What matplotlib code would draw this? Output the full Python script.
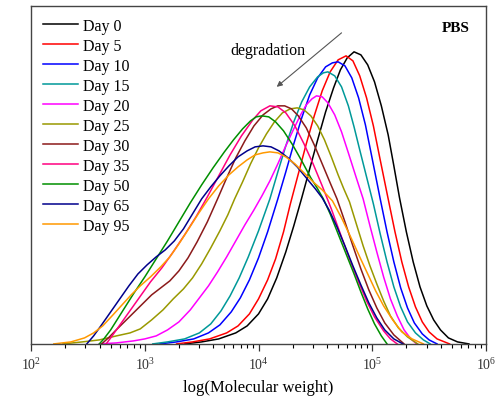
import numpy as np
import matplotlib
matplotlib.use("Agg")
import matplotlib.pyplot as plt
from matplotlib.ticker import LogLocator, NullFormatter

plt.rcParams['font.family'] = ['Liberation Serif', 'DejaVu Serif']
plt.rcParams['mathtext.fontset'] = 'stix'

# GPC traces: log10(M) and detector response (arb. units)
labels = ['Day 0', 'Day 5', 'Day 10', 'Day 15', 'Day 20', 'Day 25',
          'Day 30', 'Day 35', 'Day 50', 'Day 65', 'Day 95']
colors = ['#000000', '#ff0000', '#0000ff', '#009999', '#ff00ff', '#999900',
          '#8b1a1a', '#ff0080', '#008f00', '#00008b', '#ff9900']

day0_logm = [3.35, 3.5, 3.65, 3.8, 3.9, 4.0, 4.08, 4.16, 4.24, 4.31, 4.38, 4.45, 4.52, 4.59,
             4.66, 4.72, 4.78, 4.84, 4.90, 4.96, 5.02, 5.08, 5.14, 5.19, 5.24, 5.30, 5.36,
             5.42, 5.48, 5.54, 5.60, 5.67, 5.75, 5.85]
day0_int = [0, 2, 5, 11, 18, 30, 45, 66, 92, 118, 146, 175, 204, 232,
            256, 274, 286, 292, 289, 279, 262, 238, 209, 178, 146, 112, 82,
            57, 38, 24, 14, 6, 2, 0]

day5_logm = [3.28, 3.42, 3.57, 3.72, 3.82, 3.92, 4.0, 4.08, 4.15, 4.22, 4.28, 4.35, 4.42,
             4.49, 4.56, 4.63, 4.70, 4.77, 4.83, 4.89, 4.95, 5.01, 5.07, 5.14, 5.2, 5.26,
             5.32, 5.38, 5.44, 5.5, 5.57, 5.68]
day5_int = [0, 2, 5, 11, 18, 30, 45, 64, 85, 112, 140, 170, 200,
            228, 253, 272, 284, 288, 283, 268, 246, 218, 184, 145, 112, 82,
            57, 37, 22, 12, 5, 0]

day10_logm = [3.13, 3.28, 3.43, 3.56, 3.66, 3.76, 3.84, 3.92, 4.0, 4.08, 4.17, 4.24, 4.31,
              4.38, 4.45, 4.52, 4.59, 4.65, 4.70, 4.76, 4.82, 4.88, 4.94, 5.0, 5.07, 5.13,
              5.19, 5.25, 5.31, 5.37, 5.44, 5.5, 5.57]
day10_int = [0, 2, 5, 11, 19, 32, 46, 64, 86, 112, 145, 172, 200,
             226, 249, 266, 277, 281, 282, 278, 266, 246, 219, 185, 145, 112,
             82, 56, 36, 21, 10, 4, 0]

day15_logm = [3.07, 3.2, 3.35, 3.48, 3.58, 3.67, 3.75, 3.83, 3.91, 4.0, 4.10, 4.17, 4.24,
              4.31, 4.38, 4.45, 4.52, 4.57, 4.61, 4.67, 4.73, 4.79, 4.84, 4.89, 4.95, 5.01,
              5.07, 5.13, 5.19, 5.25, 5.31, 5.38, 5.45, 5.51]
day15_int = [0, 2, 5, 11, 20, 33, 48, 66, 87, 113, 145, 172, 198,
             222, 242, 257, 267, 271, 272, 268, 257, 238, 217, 194, 167, 140,
             110, 82, 57, 37, 22, 11, 4, 0]

day20_logm = [2.6, 2.75, 2.9, 3.0, 3.1, 3.2, 3.3, 3.4, 3.48, 3.56, 3.64, 3.72, 3.8, 3.88,
              3.96, 4.03, 4.1, 4.17, 4.24, 4.31, 4.37, 4.42, 4.47, 4.51, 4.56, 4.61, 4.67,
              4.73, 4.79, 4.86, 4.92, 4.98, 5.04, 5.1, 5.16, 5.22, 5.28, 5.34, 5.39]
day20_int = [0, 1, 3, 5, 8, 14, 22, 34, 46, 58, 72, 87, 103, 119,
             134, 148, 163, 180, 198, 215, 229, 239, 245, 248, 247, 241, 229,
             212, 191, 166, 145, 118, 92, 67, 45, 28, 14, 5, 0]

day25_logm = [2.28, 2.45, 2.6, 2.75, 2.87, 2.96, 3.06, 3.16, 3.25, 3.34, 3.42, 3.5, 3.58,
              3.66, 3.73, 3.79, 3.86, 3.93, 4.0, 4.07, 4.14, 4.21, 4.28, 4.34, 4.40, 4.46,
              4.52, 4.58, 4.64, 4.70, 4.75, 4.80, 4.86, 4.92, 4.98, 5.04, 5.1, 5.16, 5.23,
              5.31, 5.4]
day25_int = [0, 2, 4, 8, 11, 15, 24, 34, 45, 55, 66, 80, 96,
             113, 129, 145, 162, 180, 196, 210, 222, 231, 235, 236, 234, 228,
             218, 204, 187, 169, 155, 142, 120, 98, 78, 60, 43, 28, 16,
             7, 0]

day30_logm = [2.62, 2.68, 2.74, 2.82, 2.9, 2.98, 3.06, 3.14, 3.22, 3.3, 3.38, 3.46, 3.55,
              3.64, 3.72, 3.8, 3.88, 3.96, 4.04, 4.11, 4.17, 4.23, 4.29, 4.35, 4.42, 4.49,
              4.56, 4.63, 4.69, 4.76, 4.83, 4.9, 4.97, 5.04, 5.11, 5.19, 5.28]
day30_int = [0, 6, 13, 22, 31, 40, 49, 56, 63, 73, 86, 102, 122,
             145, 166, 186, 203, 218, 229, 235, 238, 238, 235, 228, 216, 199,
             180, 161, 145, 122, 98, 75, 54, 36, 21, 9, 0]

day35_logm = [2.66, 2.7, 2.75, 2.85, 2.95, 3.05, 3.15, 3.25, 3.35, 3.45, 3.55, 3.65, 3.75,
              3.85, 3.95, 4.02, 4.10, 4.17, 4.24, 4.32, 4.4, 4.48, 4.56, 4.64, 4.72, 4.8,
              4.88, 4.95, 5.02, 5.1, 5.16, 5.22]
day35_int = [0, 6, 14, 30, 46, 62, 76, 92, 109, 127, 147, 168, 189,
             208, 224, 233, 238, 237, 231, 218, 200, 180, 158, 135, 110, 85,
             62, 43, 27, 13, 5, 0]

day50_logm = [2.6, 2.64, 2.7, 2.8, 2.9, 3.0, 3.1, 3.2, 3.3, 3.4, 3.5, 3.6, 3.7, 3.78,
              3.86, 3.93, 3.98, 4.03, 4.09, 4.15, 4.22, 4.3, 4.38, 4.46, 4.52, 4.57, 4.63,
              4.7, 4.77, 4.84, 4.9, 4.96, 5.02, 5.08, 5.13]
day50_int = [0, 5, 14, 32, 50, 67, 85, 103, 122, 141, 159, 176, 192, 204,
             215, 223, 227, 228, 227, 222, 213, 199, 183, 166, 155, 145, 130,
             110, 90, 70, 52, 35, 20, 8, 0]

day65_logm = [2.49, 2.55, 2.62, 2.7, 2.78, 2.86, 2.94, 3.02, 3.1, 3.18, 3.26, 3.34, 3.42,
              3.5, 3.58, 3.66, 3.74, 3.82, 3.9, 3.97, 4.04, 4.11, 4.18, 4.26, 4.34, 4.42,
              4.5, 4.56, 4.62, 4.69, 4.76, 4.83, 4.9, 4.97, 5.04, 5.11, 5.19, 5.27]
day65_int = [0, 8, 19, 32, 45, 58, 70, 79, 87, 94, 103, 115, 130,
             145, 157, 168, 178, 187, 193, 197, 198, 197, 193, 186, 177, 166,
             155, 146, 134, 117, 98, 78, 59, 41, 26, 14, 5, 0]

day95_logm = [2.2, 2.35, 2.47, 2.55, 2.63, 2.72, 2.8, 2.88, 2.96, 3.05, 3.14, 3.22, 3.3,
              3.38, 3.47, 3.56, 3.65, 3.74, 3.82, 3.9, 3.97, 4.04, 4.1, 4.17, 4.24, 4.32,
              4.4, 4.48, 4.56, 4.65, 4.73, 4.81, 4.89, 4.96, 5.03, 5.1, 5.18, 5.26, 5.35,
              5.45]
day95_int = [0, 2, 6, 11, 18, 29, 39, 49, 58, 67, 77, 87, 100,
             114, 130, 145, 158, 169, 177, 184, 189, 191, 192, 191, 187, 180,
             171, 162, 154, 143, 126, 107, 87, 70, 53, 38, 24, 12, 5,
             0]

all_logm = [day0_logm, day5_logm, day10_logm, day15_logm, day20_logm, day25_logm,
            day30_logm, day35_logm, day50_logm, day65_logm, day95_logm]
all_int = [day0_int, day5_int, day10_int, day15_int, day20_int, day25_int,
           day30_int, day35_int, day50_int, day65_int, day95_int]

fig = plt.figure(figsize=(5.01, 4.02), dpi=100)
ax = fig.add_axes([0.062, 0.142, 0.908, 0.841])

for lm, y, c, lab in zip(all_logm, all_int, colors, labels):
    ax.plot(10 ** np.array(lm), y, color=c, lw=1.1, label=lab)

ax.set_xscale('log')
ax.set_xlim(1e2, 1e6)
ax.set_ylim(0, 338)
ax.set_yticks([])
ax.xaxis.set_major_locator(LogLocator(base=10, numticks=10))
ax.xaxis.set_minor_locator(LogLocator(base=10, subs=np.arange(2, 10), numticks=50))
ax.xaxis.set_minor_formatter(NullFormatter())
ax.tick_params(axis='x', which='major', length=5, width=0.9, labelsize=10, pad=4, colors='#333333')
ax.tick_params(axis='x', which='minor', length=3, width=0.8)
for s in ax.spines.values():
    s.set_color('#444444')
    s.set_linewidth(1.0)

ax.set_xlabel('log(Molecular weight)', fontsize=12, labelpad=5)

leg = ax.legend(loc='upper left', frameon=False, fontsize=11.5, handlelength=2.2,
                labelspacing=0.25, borderaxespad=0.35, handletextpad=0.3)

ax.text(0.965, 0.955, 'PBS', transform=ax.transAxes, ha='right', va='top',
        fontsize=11, fontweight='bold')
ax.text(10 ** 4.08, 294, 'degradation', ha='center', va='center', fontsize=11.5)
ax.annotate('', xy=(10 ** 4.16, 257), xytext=(10 ** 4.73, 311),
            arrowprops=dict(arrowstyle='-|>', color='#555555', lw=0.8,
                            mutation_scale=8, shrinkA=0, shrinkB=0))

fig.savefig('out.png', dpi=100)
